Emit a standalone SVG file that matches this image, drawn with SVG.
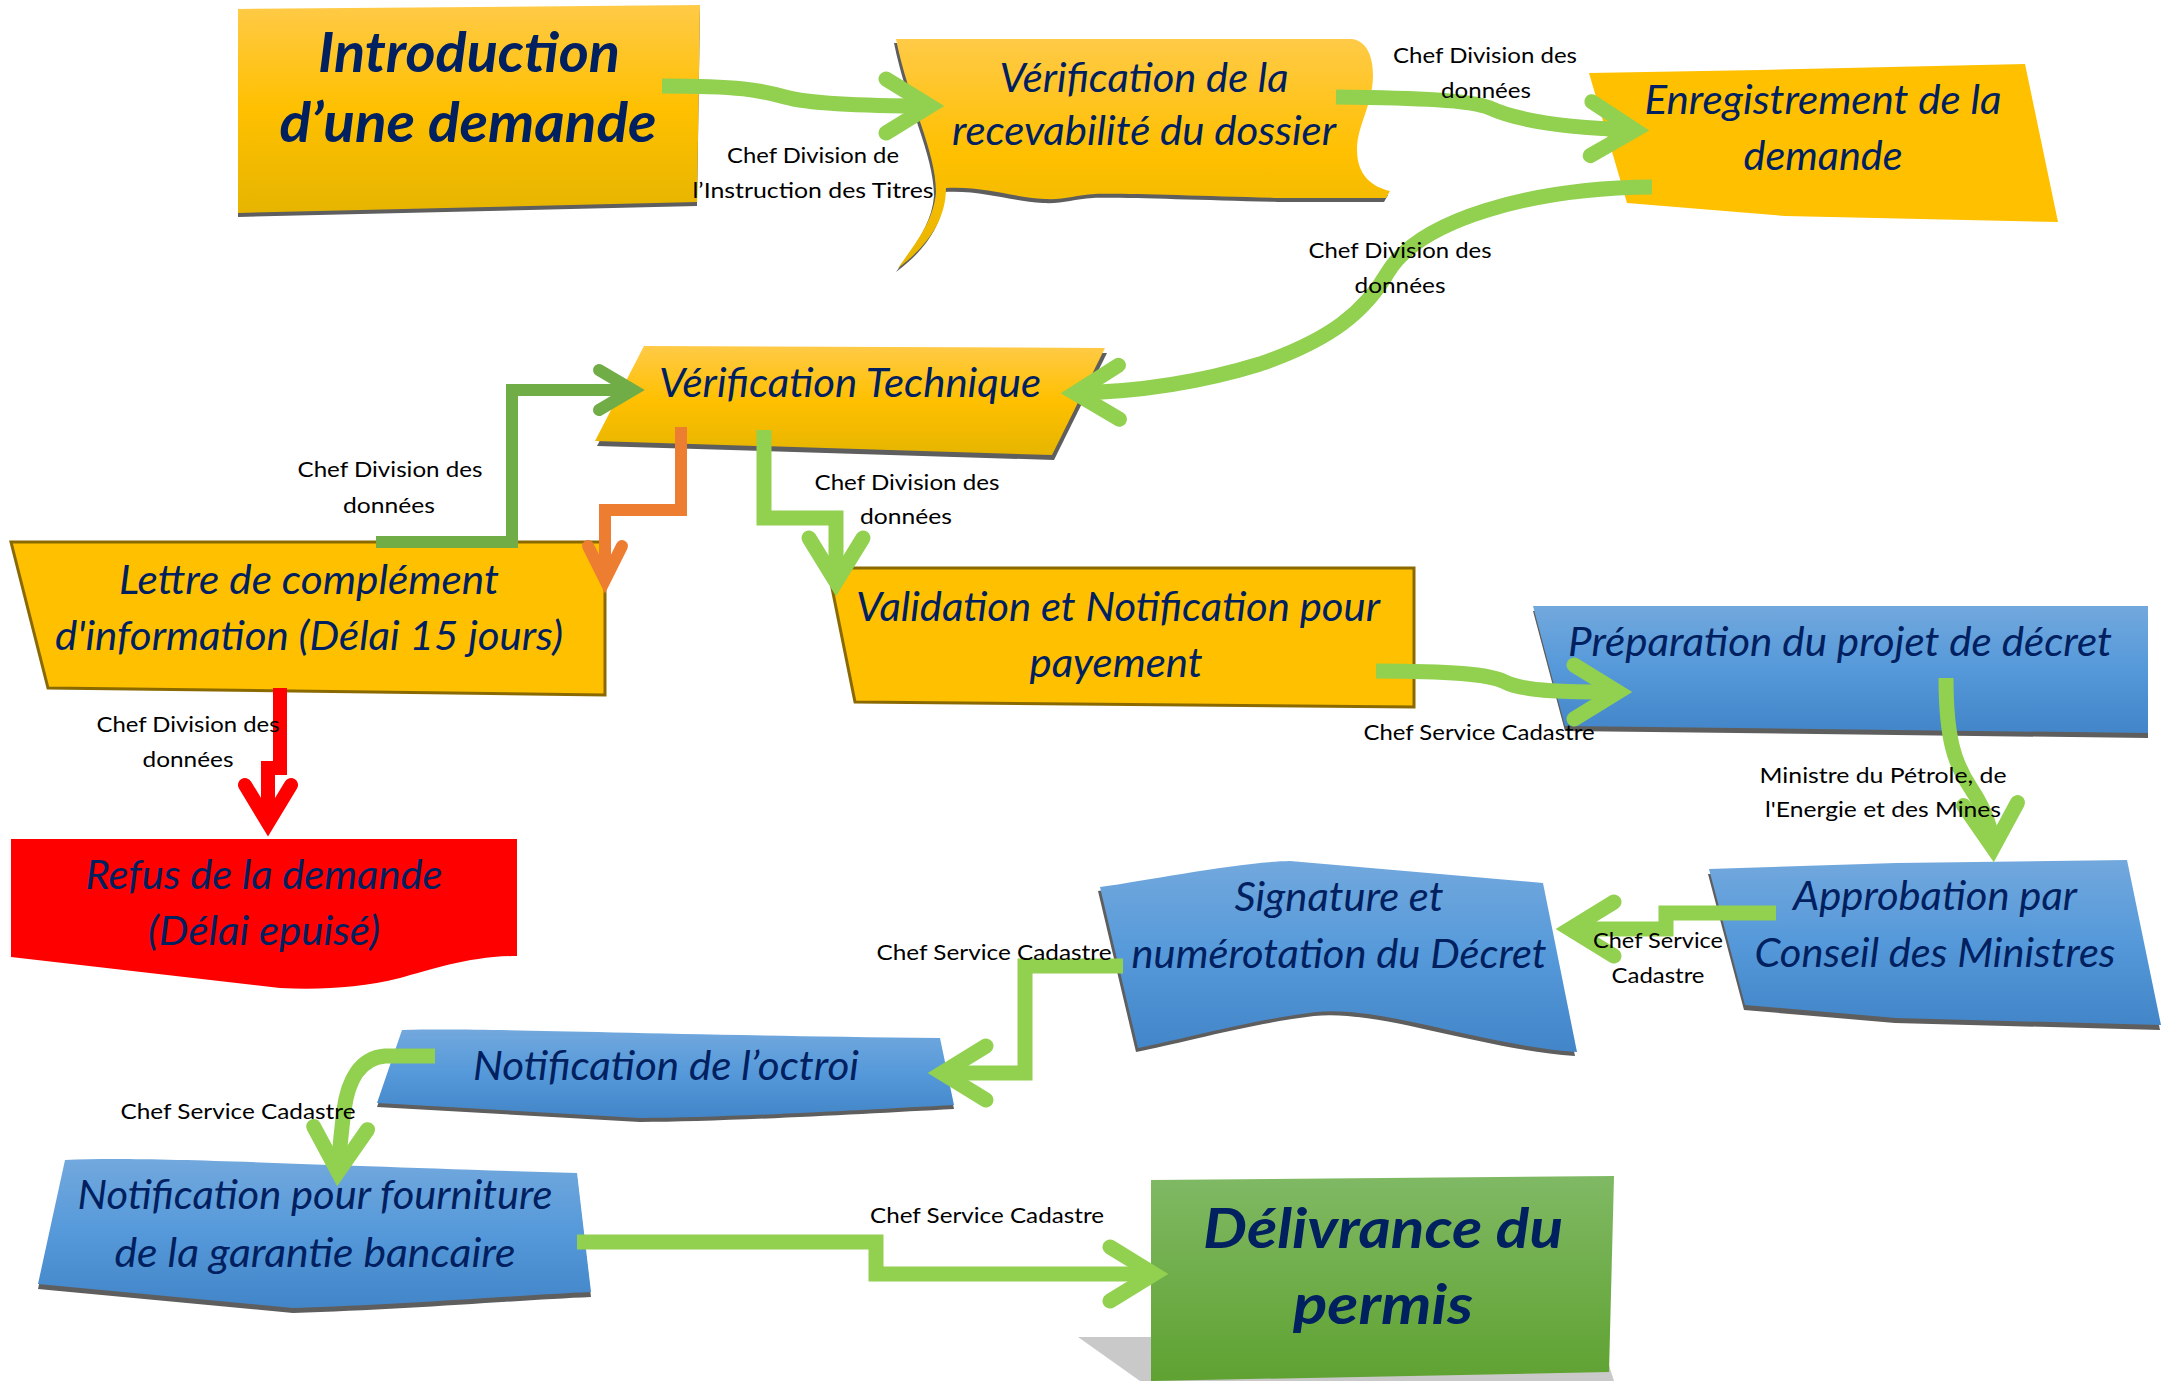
<svg xmlns="http://www.w3.org/2000/svg" width="2161" height="1381" viewBox="0 0 2161 1381">
<style>
.nt{font-family:Lato,"Open Sans","Liberation Sans",sans-serif;font-style:italic;font-size:40px;fill:#002060;text-anchor:middle}
.nb{font-weight:700;font-size:56px}
.lb{font-family:Lato,"Open Sans","Liberation Sans",sans-serif;font-size:22px;fill:#000;text-anchor:middle}
.sh{fill:#5E5E5E}
.gold{fill:#FFC000;stroke:#8A6A00;stroke-width:3}
.c{fill:none;stroke-linecap:butt;stroke-linejoin:miter}
.cg{stroke:#92D050;stroke-width:15;marker-end:url(#ah-g)}
.cdg{stroke:#70AD47;stroke-width:12;marker-end:url(#ah-dg)}
.co{stroke:#ED7D31;stroke-width:12;marker-end:url(#ah-o)}
.cr{stroke:#FF0000;stroke-width:14;marker-end:url(#ah-r)}
marker{overflow:visible}
</style>
<defs>
<linearGradient id="gy" x1="0" y1="0" x2="0" y2="1"><stop offset="0" stop-color="#FFCA47"/><stop offset="0.5" stop-color="#FFC000"/><stop offset="1" stop-color="#E6B500"/></linearGradient>
<linearGradient id="gb" x1="0" y1="0" x2="0" y2="1"><stop offset="0" stop-color="#72A8DD"/><stop offset="0.5" stop-color="#5599DA"/><stop offset="1" stop-color="#4285C8"/></linearGradient>
<linearGradient id="gg" x1="0" y1="0" x2="0" y2="1"><stop offset="0" stop-color="#80B964"/><stop offset="1" stop-color="#5FA231"/></linearGradient>
<marker id="ah-g" markerUnits="userSpaceOnUse" orient="auto" viewBox="-70 -45 90 90" markerWidth="90" markerHeight="90" refX="0" refY="0"><path d="M-44,-27 L0,0 L-44,27" fill="none" stroke="#92D050" stroke-width="15" stroke-linecap="round" stroke-linejoin="miter"/></marker>
<marker id="ah-dg" markerUnits="userSpaceOnUse" orient="auto" viewBox="-60 -40 80 80" markerWidth="80" markerHeight="80" refX="0" refY="0"><path d="M-34,-20 L0,0 L-34,20" fill="none" stroke="#70AD47" stroke-width="12" stroke-linecap="round" stroke-linejoin="miter"/></marker>
<marker id="ah-o" markerUnits="userSpaceOnUse" orient="auto" viewBox="-60 -40 80 80" markerWidth="80" markerHeight="80" refX="0" refY="0"><path d="M-34,-17 L0,0 L-34,17" fill="none" stroke="#ED7D31" stroke-width="12" stroke-linecap="round" stroke-linejoin="miter"/></marker>
<marker id="ah-r" markerUnits="userSpaceOnUse" orient="auto" viewBox="-60 -40 80 80" markerWidth="80" markerHeight="80" refX="0" refY="0"><path d="M-38,-23 L0,0 L-38,23" fill="none" stroke="#FF0000" stroke-width="14" stroke-linecap="round" stroke-linejoin="miter"/></marker>
</defs>
<rect width="2161" height="1381" fill="#FFFFFF"/>

<g id="nodes">
<g id="n-introduction">
<path class="sh" transform="translate(0,4)" d="M238,9 L700,5 L697,202 L238,213 Z"/>
<path fill="url(#gy)" d="M238,9 L700,5 L697,202 L238,213 Z"/>
<text class="nt nb" x="469" y="72" textLength="302" lengthAdjust="spacingAndGlyphs">Introduction</text>
<text class="nt nb" x="468" y="142" textLength="377" lengthAdjust="spacingAndGlyphs">d’une demande</text>
</g>
<g id="n-recevabilite">
<path class="sh" transform="translate(-2,4)" d="M896,39 L1352,39 C1366,41 1373,55 1373,75 C1373,105 1357,125 1357,150 C1357,175 1372,187 1390,191 L1386,198 L1280,198 C1200,196 1120,193 1095,194 C1075,195 1065,200 1045,199 C1010,197 985,186 946,188 C946,222 925,248 898,268 C912,248 934,222 936,192 C936,150 908,100 896,39 Z"/>
<path fill="url(#gy)" d="M896,39 L1352,39 C1366,41 1373,55 1373,75 C1373,105 1357,125 1357,150 C1357,175 1372,187 1390,191 L1386,198 L1280,198 C1200,196 1120,193 1095,194 C1075,195 1065,200 1045,199 C1010,197 985,186 946,188 C946,222 925,248 898,268 C912,248 934,222 936,192 C936,150 908,100 896,39 Z"/>
<text class="nt" x="1144" y="92" textLength="289" lengthAdjust="spacingAndGlyphs">Vérification de la</text>
<text class="nt" x="1144" y="145" textLength="384" lengthAdjust="spacingAndGlyphs">recevabilité du dossier</text>
</g>
<g id="n-enregistrement">
<path fill="#FFC000" d="M1589,73 L1760,70 L2025,64 L2058,222 L1785,216 L1627,203 Z"/>
<text class="nt" x="1823" y="114" textLength="357" lengthAdjust="spacingAndGlyphs">Enregistrement de la</text>
<text class="nt" x="1823" y="170" textLength="159" lengthAdjust="spacingAndGlyphs">demande</text>
</g>
<g id="n-verif-technique">
<path class="sh" transform="translate(2,5)" d="M644,346 L1105,348 L1052,455 L595,441 Z"/>
<path fill="url(#gy)" d="M644,346 L1105,348 L1052,455 L595,441 Z"/>
<text class="nt" x="850" y="397" textLength="382" lengthAdjust="spacingAndGlyphs">Vérification Technique</text>
</g>
<g id="n-lettre">
<path class="gold" d="M11,542 L605,542 L605,695 L48,688 Z"/>
<text class="nt" x="309" y="594" textLength="380" lengthAdjust="spacingAndGlyphs">Lettre de complément</text>
<text class="nt" x="309" y="650" textLength="508" lengthAdjust="spacingAndGlyphs">d'information (Délai 15 jours)</text>
</g>
<g id="n-validation">
<path class="gold" d="M828,568 L1414,568 L1414,707 L855,702 Z"/>
<text class="nt" x="1118" y="621" textLength="524" lengthAdjust="spacingAndGlyphs">Validation et Notification pour</text>
<text class="nt" x="1116" y="677" textLength="173" lengthAdjust="spacingAndGlyphs">payement</text>
</g>
<g id="n-refus">
<path fill="#FF0000" d="M11,839 L517,839 L517,956 C470,956 430,970 400,978 C360,988 320,990 280,988 L11,957 Z"/>
<text class="nt" x="264" y="889" textLength="357" lengthAdjust="spacingAndGlyphs">Refus de la demande</text>
<text class="nt" x="264" y="945" textLength="232" lengthAdjust="spacingAndGlyphs">(Délai epuisé)</text>
</g>
<g id="n-preparation">
<path class="sh" transform="translate(0,5)" d="M1533,606 L2148,606 L2148,733 L1565,726 Z"/>
<path fill="url(#gb)" d="M1533,606 L2148,606 L2148,733 L1565,726 Z"/>
<text class="nt" x="1840" y="656" textLength="544" lengthAdjust="spacingAndGlyphs">Préparation du projet de décret</text>
</g>
<g id="n-approbation">
<path class="sh" transform="translate(-1,5)" d="M1709,869 L1896,863 L2127,860 L2161,1025 L1896,1018 L1745,1005 Z"/>
<path fill="url(#gb)" d="M1709,869 L1896,863 L2127,860 L2161,1025 L1896,1018 L1745,1005 Z"/>
<text class="nt" x="1935" y="910" textLength="284" lengthAdjust="spacingAndGlyphs">Approbation par</text>
<text class="nt" x="1935" y="967" textLength="361" lengthAdjust="spacingAndGlyphs">Conseil des Ministres</text>
</g>
<g id="n-signature">
<path class="sh" transform="translate(-2,4)" d="M1100,887 C1150,880 1240,862 1290,861 L1543,883 L1577,1052 C1480,1045 1380,1005 1316,1012 C1250,1020 1180,1040 1138,1048 Z"/>
<path fill="url(#gb)" d="M1100,887 C1150,880 1240,862 1290,861 L1543,883 L1577,1052 C1480,1045 1380,1005 1316,1012 C1250,1020 1180,1040 1138,1048 Z"/>
<text class="nt" x="1339" y="911" textLength="209" lengthAdjust="spacingAndGlyphs">Signature et</text>
<text class="nt" x="1339" y="968" textLength="415" lengthAdjust="spacingAndGlyphs">numérotation du Décret</text>
</g>
<g id="n-octroi">
<path class="sh" transform="translate(0,4)" d="M402,1030 C500,1028 600,1034 940,1038 L954,1105 C860,1110 720,1118 640,1118 L377,1103 Z"/>
<path fill="url(#gb)" d="M402,1030 C500,1028 600,1034 940,1038 L954,1105 C860,1110 720,1118 640,1118 L377,1103 Z"/>
<text class="nt" x="666" y="1080" textLength="386" lengthAdjust="spacingAndGlyphs">Notification de l’octroi</text>
</g>
<g id="n-garantie">
<path class="sh" transform="translate(0,5)" d="M65,1160 C150,1156 300,1165 577,1173 L591,1292 C520,1295 400,1305 293,1308 L38,1284 Z"/>
<path fill="url(#gb)" d="M65,1160 C150,1156 300,1165 577,1173 L591,1292 C520,1295 400,1305 293,1308 L38,1284 Z"/>
<text class="nt" x="315" y="1209" textLength="475" lengthAdjust="spacingAndGlyphs">Notification pour fourniture</text>
<text class="nt" x="315" y="1267" textLength="401" lengthAdjust="spacingAndGlyphs">de la garantie bancaire</text>
</g>
<g id="n-delivrance">
<path fill="#C9C9C9" d="M1078,1337 L1600,1337 L1614,1381 L1140,1381 Z"/>
<path fill="url(#gg)" d="M1151,1180 L1614,1176 L1609,1372 L1151,1381 Z"/>
<text class="nt nb" x="1383" y="1248" font-size="58" textLength="360" lengthAdjust="spacingAndGlyphs">Délivrance du</text>
<text class="nt nb" x="1383" y="1324" font-size="58" textLength="180" lengthAdjust="spacingAndGlyphs">permis</text>
</g>
</g>

<g id="connectors">
<path class="c cg" d="M662,86 C740,86 760,90 785,97 S870,106 930,106"/>
<path class="c cg" d="M1336,97 C1420,98 1470,100 1490,108 C1520,122 1570,128 1635,130"/>
<path class="c cg" d="M1652,187 C1530,188 1420,220 1388,272 C1365,312 1330,340 1260,364 C1195,384 1130,392 1075,393"/>
<path class="c cdg" d="M376,542 H512 V390 H633"/>
<path class="c co" d="M681,427 V510 H605 V580"/>
<path class="c cg" d="M764,430 V518 H836 V582"/>
<path class="c cr" d="M280,688 V768 H268 V823"/>
<path class="c cg" d="M1376,671 C1450,671 1490,674 1505,682 C1525,692 1570,692 1618,692"/>
<path class="c cg" d="M1946,678 C1946,740 1955,765 1972,790 C1985,810 1992,830 1993,848"/>
<path class="c cg" d="M1776,913 H1666 V929 H1570"/>
<path class="c cg" d="M1123,966 H1025 V1073 H942"/>
<path class="c cg" d="M435,1056 L385,1056 C360,1058 348,1080 344,1110 C341,1135 339,1155 338,1172"/>
<path class="c cg" d="M577,1242 H876 V1274 H1154"/>
</g>

<g id="labels">
<text class="lb" x="813" y="163" textLength="172" lengthAdjust="spacingAndGlyphs">Chef Division de</text>
<text class="lb" x="813" y="198" textLength="241" lengthAdjust="spacingAndGlyphs">l’Instruction des Titres</text>
<text class="lb" x="1485" y="63" textLength="184" lengthAdjust="spacingAndGlyphs">Chef Division des</text>
<text class="lb" x="1486" y="98" textLength="90" lengthAdjust="spacingAndGlyphs">données</text>
<text class="lb" x="1400" y="258" textLength="183" lengthAdjust="spacingAndGlyphs">Chef Division des</text>
<text class="lb" x="1400" y="293" textLength="91" lengthAdjust="spacingAndGlyphs">données</text>
<text class="lb" x="390" y="477" textLength="185" lengthAdjust="spacingAndGlyphs">Chef Division des</text>
<text class="lb" x="389" y="513" textLength="92" lengthAdjust="spacingAndGlyphs">données</text>
<text class="lb" x="907" y="490" textLength="185" lengthAdjust="spacingAndGlyphs">Chef Division des</text>
<text class="lb" x="906" y="524" textLength="92" lengthAdjust="spacingAndGlyphs">données</text>
<text class="lb" x="188" y="732" textLength="183" lengthAdjust="spacingAndGlyphs">Chef Division des</text>
<text class="lb" x="188" y="767" textLength="91" lengthAdjust="spacingAndGlyphs">données</text>
<text class="lb" x="1479" y="740" textLength="231" lengthAdjust="spacingAndGlyphs">Chef Service Cadastre</text>
<text class="lb" x="1883" y="783" textLength="247" lengthAdjust="spacingAndGlyphs">Ministre du Pétrole, de</text>
<text class="lb" x="1883" y="817" textLength="236" lengthAdjust="spacingAndGlyphs">l'Energie et des Mines</text>
<text class="lb" x="1658" y="948" textLength="130" lengthAdjust="spacingAndGlyphs">Chef Service</text>
<text class="lb" x="1658" y="983" textLength="93" lengthAdjust="spacingAndGlyphs">Cadastre</text>
<text class="lb" x="994" y="960" textLength="235" lengthAdjust="spacingAndGlyphs">Chef Service Cadastre</text>
<text class="lb" x="238" y="1119" textLength="235" lengthAdjust="spacingAndGlyphs">Chef Service Cadastre</text>
<text class="lb" x="987" y="1223" textLength="234" lengthAdjust="spacingAndGlyphs">Chef Service Cadastre</text>
</g>
</svg>
